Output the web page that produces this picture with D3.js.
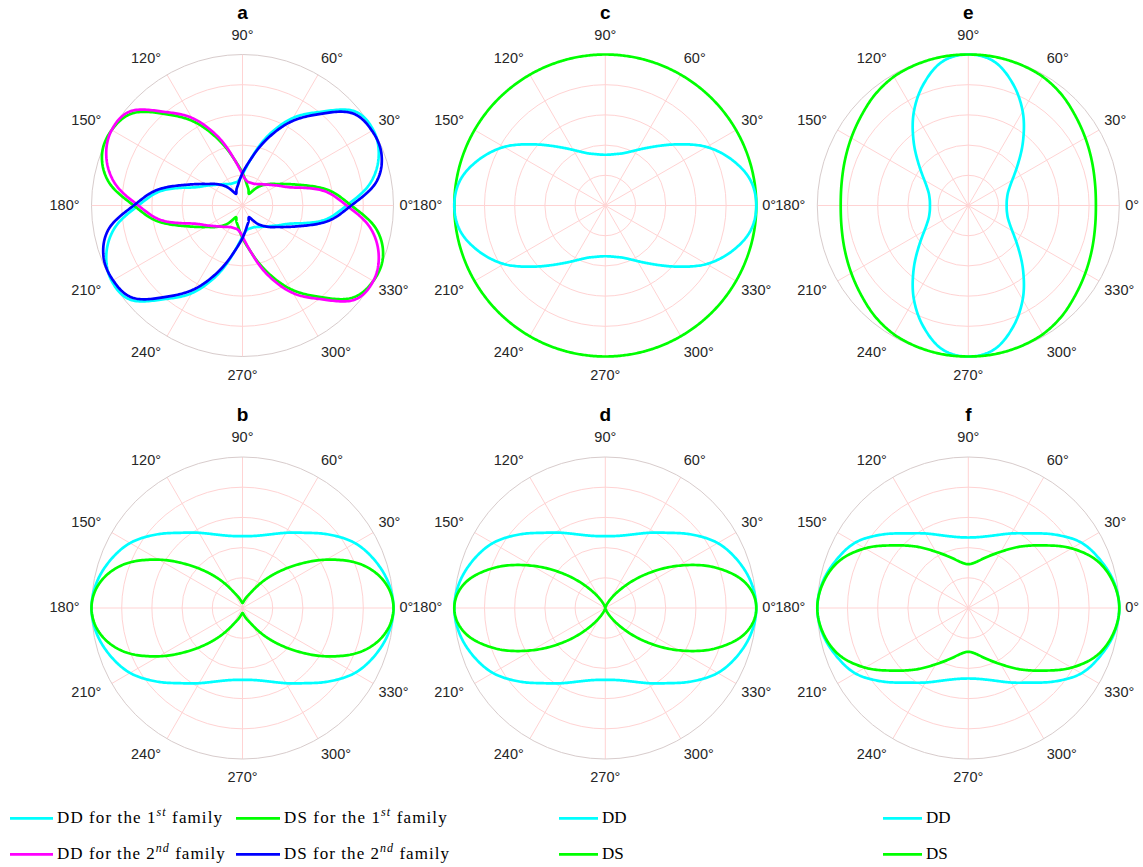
<!DOCTYPE html>
<html>
<head>
<meta charset="utf-8">
<script src="https://cdn.jsdelivr.net/npm/d3@7"></script>
<style>
  body { margin: 0; background: #fff; }
</style>
</head>
<body>
<svg id="chart" width="1143" height="867"></svg>
<script>
// sample angles (deg) for every curve
const angles = d3.range(0, 360, 10);
const thetaTicks = [0, 30, 60, 90, 120, 150, 180, 210, 240, 270, 300, 330];
const rings = [0.2, 0.4, 0.6, 0.8];

// panel a: two families
const ddFirstA = [0.69, 0.86, 0.96, 1.0, 0.97, 0.81, 0.67, 0.49, 0.31, 0.205, 0.165, 0.16, 0.165, 0.185, 0.215, 0.265, 0.35, 0.55,
                  0.69, 0.86, 0.96, 1.0, 0.97, 0.81, 0.67, 0.49, 0.31, 0.205, 0.165, 0.16, 0.165, 0.185, 0.215, 0.265, 0.35, 0.55];
const dsFirstA = [0.72, 0.58, 0.40, 0.285, 0.22, 0.16, 0.09, 0.115, 0.15, 0.215, 0.31, 0.465, 0.64, 0.79, 0.95, 1.0, 0.99, 0.90,
                  0.72, 0.58, 0.40, 0.285, 0.22, 0.16, 0.09, 0.115, 0.15, 0.215, 0.31, 0.465, 0.64, 0.79, 0.95, 1.0, 0.99, 0.90];
const ddSecondA = [0.69, 0.55, 0.35, 0.265, 0.215, 0.185, 0.165, 0.16, 0.165, 0.205, 0.31, 0.49, 0.67, 0.81, 0.97, 1.0, 0.96, 0.86,
                   0.69, 0.55, 0.35, 0.265, 0.215, 0.185, 0.165, 0.16, 0.165, 0.205, 0.31, 0.49, 0.67, 0.81, 0.97, 1.0, 0.96, 0.86];
const dsSecondA = [0.72, 0.90, 0.98, 0.99, 0.95, 0.79, 0.64, 0.465, 0.31, 0.215, 0.15, 0.115, 0.09, 0.16, 0.22, 0.285, 0.40, 0.58,
                   0.72, 0.90, 0.98, 0.99, 0.95, 0.79, 0.64, 0.465, 0.31, 0.215, 0.15, 0.115, 0.09, 0.16, 0.22, 0.285, 0.40, 0.58];

// panels b - f
const ddB = [1.0, 0.98, 0.93, 0.86, 0.755, 0.65, 0.575, 0.518, 0.485, 0.476, 0.485, 0.518, 0.575, 0.65, 0.755, 0.86, 0.93, 0.98,
             1.0, 0.98, 0.93, 0.86, 0.755, 0.65, 0.575, 0.518, 0.485, 0.476, 0.485, 0.518, 0.575, 0.65, 0.755, 0.86, 0.93, 0.98];
const dsB = [1.0, 0.96, 0.84, 0.64, 0.43, 0.26, 0.13, 0.075, 0.045, 0.033, 0.045, 0.075, 0.13, 0.26, 0.43, 0.64, 0.84, 0.96,
             1.0, 0.96, 0.84, 0.64, 0.43, 0.26, 0.13, 0.075, 0.045, 0.033, 0.045, 0.075, 0.13, 0.26, 0.43, 0.64, 0.84, 0.96];
const ddC = [1.0, 0.975, 0.89, 0.775, 0.63, 0.51, 0.425, 0.37, 0.345, 0.336, 0.345, 0.37, 0.425, 0.51, 0.63, 0.775, 0.89, 0.975,
             1.0, 0.975, 0.89, 0.775, 0.63, 0.51, 0.425, 0.37, 0.345, 0.336, 0.345, 0.37, 0.425, 0.51, 0.63, 0.775, 0.89, 0.975];
const dsC = [1, 1, 1, 1, 1, 1, 1, 1, 1, 1, 1, 1, 1, 1, 1, 1, 1, 1,
             1, 1, 1, 1, 1, 1, 1, 1, 1, 1, 1, 1, 1, 1, 1, 1, 1, 1];
const ddD = [1.0, 0.98, 0.93, 0.86, 0.755, 0.65, 0.575, 0.518, 0.485, 0.476, 0.485, 0.518, 0.575, 0.65, 0.755, 0.86, 0.93, 0.98,
             1.0, 0.98, 0.93, 0.86, 0.755, 0.65, 0.575, 0.518, 0.485, 0.476, 0.485, 0.518, 0.575, 0.65, 0.755, 0.86, 0.93, 0.98];
const dsD = [1.0, 0.945, 0.78, 0.56, 0.345, 0.17, 0.065, 0.015, 0.0, 0.0, 0.0, 0.015, 0.065, 0.17, 0.345, 0.56, 0.78, 0.945,
             1.0, 0.945, 0.78, 0.56, 0.345, 0.17, 0.065, 0.015, 0.0, 0.0, 0.0, 0.015, 0.065, 0.17, 0.345, 0.56, 0.78, 0.945];
const ddE = [0.254, 0.26, 0.283, 0.336, 0.43, 0.565, 0.72, 0.86, 0.97, 1.0, 0.97, 0.86, 0.72, 0.565, 0.43, 0.336, 0.283, 0.26,
             0.254, 0.26, 0.283, 0.336, 0.43, 0.565, 0.72, 0.86, 0.97, 1.0, 0.97, 0.86, 0.72, 0.565, 0.43, 0.336, 0.283, 0.26];
const dsE = [0.845, 0.852, 0.87, 0.895, 0.925, 0.96, 0.985, 0.995, 1.0, 1.0, 1.0, 0.995, 0.985, 0.96, 0.925, 0.895, 0.87, 0.852,
             0.845, 0.852, 0.87, 0.895, 0.925, 0.96, 0.985, 0.995, 1.0, 1.0, 1.0, 0.995, 0.985, 0.96, 0.925, 0.895, 0.87, 0.852];
const ddF = [1.0, 0.98, 0.93, 0.865, 0.755, 0.645, 0.57, 0.512, 0.478, 0.467, 0.478, 0.512, 0.57, 0.645, 0.755, 0.865, 0.93, 0.98,
             1.0, 0.98, 0.93, 0.865, 0.755, 0.645, 0.57, 0.512, 0.478, 0.467, 0.478, 0.512, 0.57, 0.645, 0.755, 0.865, 0.93, 0.98];
const dsF = [1.0, 0.975, 0.91, 0.79, 0.645, 0.53, 0.43, 0.36, 0.31, 0.29, 0.31, 0.36, 0.43, 0.53, 0.645, 0.79, 0.91, 0.975,
             1.0, 0.975, 0.91, 0.79, 0.645, 0.53, 0.43, 0.36, 0.31, 0.29, 0.31, 0.36, 0.43, 0.53, 0.645, 0.79, 0.91, 0.975];

const CYAN = '#00ffff', GREEN = '#00ff00', MAGENTA = '#ff00ff', BLUE = '#0000ff';

const svg = d3.select('#chart');
const R = 151;
const colX = [242.5, 605.3, 968.3],
    rowY = [205.5, 608];

const panels = [
    { name: 'a', cx: colX[0], cy: rowY[0], series: [[ddFirstA, CYAN], [dsFirstA, GREEN], [ddSecondA, MAGENTA], [dsSecondA, BLUE]] },
    { name: 'b', cx: colX[0], cy: rowY[1], series: [[ddB, CYAN], [dsB, GREEN]] },
    { name: 'c', cx: colX[1], cy: rowY[0], series: [[dsC, GREEN], [ddC, CYAN]] },
    { name: 'd', cx: colX[1], cy: rowY[1], series: [[ddD, CYAN], [dsD, GREEN]] },
    { name: 'e', cx: colX[2], cy: rowY[0], series: [[ddE, CYAN], [dsE, GREEN]] },
    { name: 'f', cx: colX[2], cy: rowY[1], series: [[ddF, CYAN], [dsF, GREEN]] }
];

const rScale = d3.scaleLinear().domain([0, 1]).range([0, R]);
// math angle (ccw from east) -> d3 radial angle (cw from north)
const aScale = d3.scaleLinear().domain([0, 360]).range([Math.PI / 2, Math.PI / 2 - 2 * Math.PI]);

const radial = d3.lineRadial()
    .angle(d => aScale(d[0]))
    .radius(d => rScale(d[1]))
    .curve(d3.curveLinearClosed);

// smooth closed spline through the read samples, done in (angle, r) space
function polarSpline(vals, steps) {
    let n = vals.length,
        step = angles[1] - angles[0],
        out = [];
    for (let i = 0; i < n; i++) {
        let p0 = vals[(i - 1 + n) % n], p1 = vals[i], p2 = vals[(i + 1) % n], p3 = vals[(i + 2) % n];
        for (let s = 0; s < steps; s++) {
            let t = s / steps, t2 = t * t, t3 = t2 * t;
            let r = 0.5 * (2 * p1 + (-p0 + p2) * t + (2 * p0 - 5 * p1 + 4 * p2 - p3) * t2 + (-p0 + 3 * p1 - 3 * p2 + p3) * t3);
            out.push([angles[i] + t * step, Math.max(0, r)]);
        }
    }
    return out;
}

panels.forEach(p => {
    let g = svg.append('g').attr('transform', `translate(${p.cx},${p.cy})`);

    // 网格
    g.selectAll('.ring').data(rings).enter().append('circle')
        .attr('r', d => rScale(d))
        .attr('fill', 'none')
        .attr('stroke', '#ffd3d3')
        .attr('stroke-width', 1);
    g.selectAll('.spoke').data(thetaTicks).enter().append('line')
        .attr('x1', 0).attr('y1', 0)
        .attr('x2', d => rScale(1) * Math.cos(d * Math.PI / 180))
        .attr('y2', d => -rScale(1) * Math.sin(d * Math.PI / 180))
        .attr('stroke', '#ffd3d3')
        .attr('stroke-width', 1);
    g.append('circle')
        .attr('r', rScale(1))
        .attr('fill', 'none')
        .attr('stroke', '#d8cccc')
        .attr('stroke-width', 1);

    // 角度标签
    g.selectAll('.tlab').data(thetaTicks).enter().append('text')
        .attr('x', d => {
            let c = Math.cos(d * Math.PI / 180);
            if (c > 0.01) return (R + 6) * c;
            if (c < -0.01) return (R + 12) * c;
            return 0;
        })
        .attr('y', d => -170 * Math.sin(d * Math.PI / 180) - 1)
        .attr('dy', '0.36em')
        .attr('text-anchor', d => {
            let c = Math.cos(d * Math.PI / 180);
            return c > 0.01 ? 'start' : (c < -0.01 ? 'end' : 'middle');
        })
        .attr('font-family', '"Liberation Sans", Arial, sans-serif')
        .attr('font-size', 14.5)
        .attr('fill', '#262626')
        .text(d => d + '°');

    // 曲线
    p.series.forEach(s => {
        g.append('path')
            .attr('d', radial(polarSpline(s[0], 20)))
            .attr('fill', 'none')
            .attr('stroke', s[1])
            .attr('stroke-width', 2.7)
            .attr('stroke-linejoin', 'round');
    });

    // 标题
    g.append('text')
        .attr('x', 0)
        .attr('y', -187)
        .attr('text-anchor', 'middle')
        .attr('font-family', '"Liberation Sans", Arial, sans-serif')
        .attr('font-weight', 'bold')
        .attr('font-size', 19)
        .attr('fill', '#000')
        .text(p.name);
});

// 图例
const legendItems = [
    { x: 10, w: 43, y: 818.3, color: CYAN, label: 'DD for the 1', sup: 'st', tail: ' family', len: 165 },
    { x: 236, w: 44, y: 818.3, color: GREEN, label: 'DS for the 1', sup: 'st', tail: ' family', len: 162.7 },
    { x: 10, w: 43, y: 854.3, color: MAGENTA, label: 'DD for the 2', sup: 'nd', tail: ' family', len: 167.7 },
    { x: 236, w: 44, y: 854.3, color: BLUE, label: 'DS for the 2', sup: 'nd', tail: ' family', len: 165 },
    { x: 559, w: 39, y: 818.3, color: CYAN, label: 'DD' },
    { x: 559, w: 39, y: 854.3, color: GREEN, label: 'DS' },
    { x: 883, w: 39, y: 818.3, color: CYAN, label: 'DD' },
    { x: 883, w: 39, y: 854.3, color: GREEN, label: 'DS' }
];
let legend = svg.append('g');
legendItems.forEach(it => {
    legend.append('line')
        .attr('x1', it.x).attr('x2', it.x + it.w)
        .attr('y1', it.y).attr('y2', it.y)
        .attr('stroke', it.color)
        .attr('stroke-width', 2.7);
    let t = legend.append('text')
        .attr('x', it.x + it.w + 4)
        .attr('y', it.y + 5)
        .attr('font-family', '"Liberation Serif", "Times New Roman", serif')
        .attr('font-size', 17)
        .attr('fill', '#000');
    t.append('tspan').text(it.label);
    if (it.sup) {
        t.append('tspan')
            .attr('baseline-shift', 'super')
            .attr('font-size', 12)
            .attr('font-style', 'italic')
            .text(it.sup);
        t.append('tspan').text(it.tail);
        t.attr('textLength', it.len).attr('lengthAdjust', 'spacing');
    }
});
</script>
</body>
</html>
